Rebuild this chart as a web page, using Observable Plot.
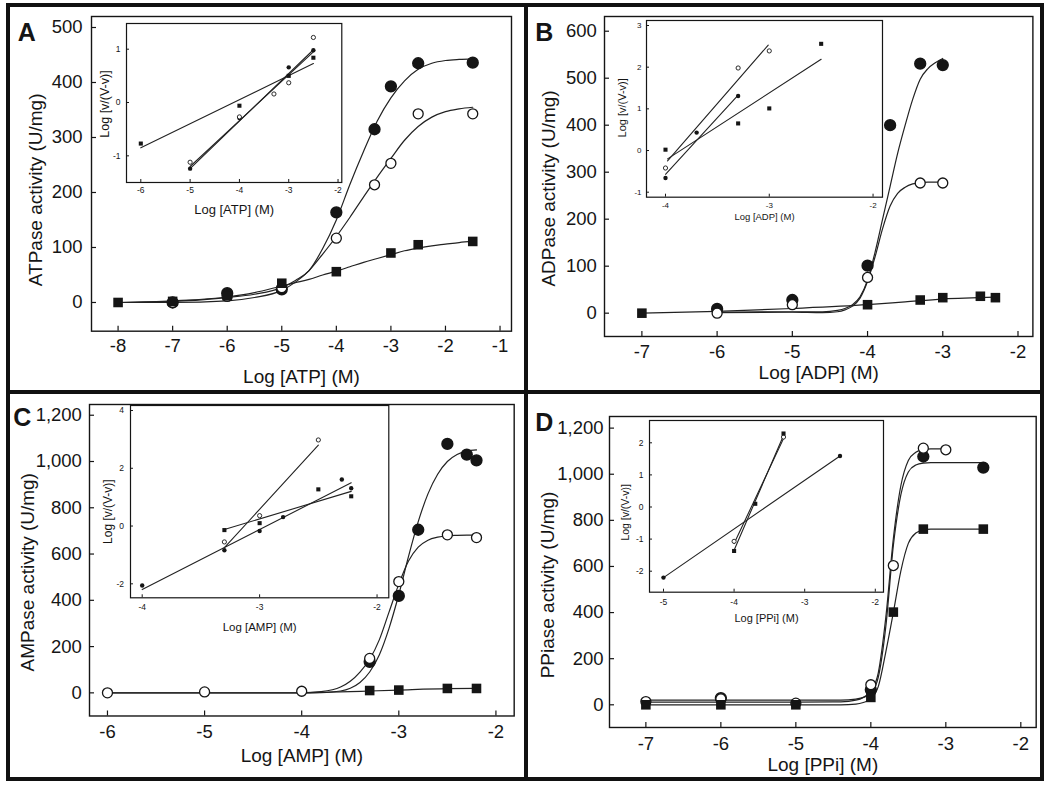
<!DOCTYPE html>
<html><head><meta charset="utf-8">
<script src="https://cdn.jsdelivr.net/npm/d3@7"></script>
<script src="https://cdn.jsdelivr.net/npm/@observablehq/plot@0.6"></script>
<style>
body{margin:0;background:#fff;}
#fig{position:relative;width:1050px;height:788px;background:#fff;overflow:hidden;}
.bar{position:absolute;background:#111;}
</style></head><body><div id="fig"></div>
<script>
// ---------------- Panel A (ATP) ----------------
const A_conc   = [-8, -7, -6, -5, -4, -3.3, -3, -2.5, -1.5];
const A_filled = [null, 0, 17, 24, 164, 315, 393, 435, 436];
const A_open   = [null, 0, 11, 27, 117, 214, 253, 343, 343];
const A_square = [0, 2, 12, 35, 56, null, 90, 105, 111];
const A_fitX      = [-8,-7,-6,-5.5,-5,-4.75,-4.5,-4.25,-4,-3.75,-3.5,-3.25,-3,-2.75,-2.5,-2.25,-2,-1.75,-1.5];
const A_fitFilled = [0,2,9,15,27,40,58,98,150,215,275,330,372,403,424,435,440,442,443];
const A_fitOpen   = [0,0,3,9,22,37,58,88,120,155,192,228,262,295,320,337,347,352,355];
const A_fitSquare = [0,3,10,18,30,36,42,50,57,65,73,80,87,94,99,103,106,109,111];
const A_xTicks = [-8,-7,-6,-5,-4,-3,-2,-1];
const A_yTicks = [0,100,200,300,400,500];
// inset A
const iA_sqX = [-6,-4,-3,-2.5],        iA_sqY = [-0.77,-0.06,0.5,0.84];
const iA_filledX = [-5,-4,-3,-2.5],    iA_filledY = [-1.24,-0.29,0.66,0.98];
const iA_openX = [-5,-4,-3.3,-3,-2.5], iA_openY = [-1.12,-0.27,0.16,0.37,1.22];
const iA_lineSqX = [-6,-2.5],     iA_lineSqY = [-0.85,0.73];
const iA_lineFilledX = [-5,-2.5], iA_lineFilledY = [-1.24,0.99];
const iA_lineOpenX = [-5,-2.5],   iA_lineOpenY = [-1.2,0.95];

// ---------------- Panel B (ADP) ----------------
const B_conc   = [-7, -6, -5, -4, -3.7, -3.3, -3, -2.5, -2.3];
const B_filled = [null, 9, 28, 101, 400, 531, 528, null, null];
const B_open   = [null, 0, 18, 76, null, 277, 277, null, null];
const B_square = [0, null, null, 18, null, 28, 33, 36, 33];
const B_fitX      = [-6,-5,-4.6,-4.4,-4.3,-4.2,-4.1,-4,-3.9,-3.8,-3.7,-3.6,-3.5,-3.4,-3.3,-3.2,-3.1,-3];
const B_fitFilled = [2,3,3,6,10,18,35,70,130,200,270,340,400,455,498,520,533,542];
const B_fitOpen   = [1,2,1,3,7,15,32,68,120,180,228,255,268,275,278,279,279,279];
const B_sqFitX    = [-7,-6,-5,-4,-3.5,-3,-2.3];
const B_fitSquare = [0,4,10,18,24,30,34];
const B_xTicks = [-7,-6,-5,-4,-3,-2];
const B_yTicks = [0,100,200,300,400,500,600];
// inset B
const iB_openX = [-4,-3.3,-3],          iB_openY = [-0.42,1.98,2.39];
const iB_filledX = [-4,-3.7,-3.3],      iB_filledY = [-0.66,0.43,1.31];
const iB_sqX = [-4,-3.3,-3,-2.5],       iB_sqY = [0.02,0.65,1.01,2.56];
const iB_lineOpenX = [-3.98,-3.01],   iB_lineOpenY = [-0.25,2.53];
const iB_lineFilledX = [-4,-3.3],     iB_lineFilledY = [-0.57,1.33];
const iB_lineSqX = [-3.98,-2.5],      iB_lineSqY = [-0.2,2.19];

// ---------------- Panel C (AMP) ----------------
const C_conc   = [-6, -5, -4, -3.3, -3, -2.8, -2.5, -2.3, -2.2];
const C_filled = [null, null, null, 134, 419, 705, 1076, 1030, 1005];
const C_open   = [0, 4, 7, 149, 481, null, 683, null, 671];
const C_square = [null, null, null, 10, 12, null, 19, null, 19];
const C_fitX      = [-6,-5,-4,-3.8,-3.6,-3.5,-3.4,-3.3,-3.2,-3.1,-3,-2.9,-2.8,-2.7,-2.6,-2.5,-2.4,-2.3,-2.2];
const C_fitFilled = [0,0,0,1,8,20,45,90,165,280,425,590,740,860,945,1000,1030,1045,1050];
const C_fitOpen   = [0,0,0,5,25,50,90,145,230,350,470,570,630,660,673,679,681,682,682];
const C_sqFitX    = [-4,-3.5,-3.3,-3,-2.5,-2.2];
const C_fitSquare = [0,5,8,12,18,19];
const C_xTicks = [-6,-5,-4,-3,-2];
const C_yTicks = [0,200,400,600,800,1000,1200];
// inset C
const iC_filledX = [-4,-3.3,-3,-2.8,-2.3,-2.22], iC_filledY = [-2.06,-0.84,-0.17,0.31,1.61,1.31];
const iC_openX = [-3.3,-3,-2.5],                 iC_openY = [-0.55,0.36,2.98];
const iC_sqX = [-3.3,-3,-2.5,-2.22],             iC_sqY = [-0.14,0.1,1.27,1.03];
const iC_lineFilledX = [-4,-2.22], iC_lineFilledY = [-2.2,1.5];
const iC_lineOpenX = [-3.3,-2.5],  iC_lineOpenY = [-0.75,2.8];
const iC_lineSqX = [-3.3,-2.22],   iC_lineSqY = [-0.12,1.2];

// ---------------- Panel D (PPi) ----------------
const D_conc   = [-7, -6, -5, -4, -3.7, -3.3, -3, -2.5];
const D_filled = [null, 29, null, 65, null, 1077, null, 1029];
const D_open   = [14, 26, 7, 87, 604, 1113, 1106, null];
const D_square = [0, 0, 0, 32, 402, 762, null, 762];
const D_fitX      = [-7,-6,-5,-4.4,-4.2,-4.1,-4,-3.9,-3.8,-3.7,-3.6,-3.5,-3.4,-3.3,-3.2,-3,-2.5];
const D_fitFilled = [20,20,20,20,25,32,50,120,340,690,910,1010,1040,1048,1050,1050,1050];
const D_fitOpen   = [12,12,12,13,20,32,60,140,380,720,950,1060,1095,1108,1110,1110,null];
const D_fitSquare = [0,0,0,0,3,10,25,80,230,400,580,700,745,758,762,762,762];
const D_xTicks = [-7,-6,-5,-4,-3,-2];
const D_yTicks = [0,200,400,600,800,1000,1200];
// inset D
const iD_filledX = [-5,-2.5],         iD_filledY = [-2.2,1.59];
const iD_sqX = [-4,-3.7,-3.3],        iD_sqY = [-1.37,0.1,2.29];
const iD_openX = [-4,-3.3],           iD_openY = [-1.07,2.18];
const iD_lineFilledX = [-5,-2.5],     iD_lineFilledY = [-2.2,1.59];
const iD_lineSqX = [-4,-3.3],         iD_lineSqY = [-1.35,2.23];
const iD_lineOpenX = [-4,-3.3],       iD_lineOpenY = [-1.14,2.13];

// ---------------- helpers ----------------
const FONT = '"Liberation Sans", Arial, Helvetica, sans-serif';
const INK = "#151515";
const fig = document.getElementById("fig");
const fmtPlain = d => String(d);
const fmtComma = d3.format(",");

function place(svg, left, top) {
  svg.style.position = "absolute";
  svg.style.left = left + "px";
  svg.style.top = top + "px";
  fig.appendChild(svg);
}
const toPts = (xs, ys) => xs.map((x, i) => ({x, y: ys[i]})).filter(d => d.y != null);
const toLine = (xs, ys) => xs.map((x, i) => ({x, y: ys[i]}));

function mainPanel(o) {
  const [L, R, T, B] = o.frame;
  const ml = 95, mr = 14, mt = 14, mb = 64;
  const W = R - L, H = B - T;
  const marks = [
    Plot.frame({stroke: INK, strokeWidth: 1.4}),
    Plot.ruleX(o.xTicks, {x: d => d, insetTop: H - 5, stroke: INK, strokeWidth: 1.2}),
    Plot.ruleY(o.yTicks, {y: d => d, insetRight: W - 5, stroke: INK, strokeWidth: 1.2}),
    Plot.axisX({ticks: o.xTicks, tickSize: 0, tickPadding: o.xPad, tickFormat: fmtPlain, label: null, fontSize: 18.5}),
    Plot.axisY({ticks: o.yTicks, tickSize: 0, tickPadding: o.yPad, tickFormat: o.yFormat, label: null, fontSize: 18.5}),
    ...o.fits.map(f => Plot.line(toLine(f[0], f[1]), {x: "x", y: "y", curve: "monotone-x", stroke: "#222", strokeWidth: 1.2})),
    Plot.dot(toPts(o.conc, o.filled), {x: "x", y: "y", r: 5.4, fill: INK, stroke: INK}),
    Plot.dot(toPts(o.conc, o.open), {x: "x", y: "y", r: 5, fill: "white", stroke: INK, strokeWidth: 1.3}),
    Plot.dot(toPts(o.conc, o.square), {x: "x", y: "y", r: 5.4, symbol: "square", fill: INK}),
    Plot.text([o.xLabel], {frameAnchor: "bottom", text: d => d, dy: o.xLabDy, fontSize: 19, textAnchor: "middle", lineAnchor: "middle", fill: INK}),
    Plot.text([o.yLabel], {frameAnchor: "left", text: d => d, dx: o.yLabDx, dy: o.yLabDy, rotate: -90, fontSize: 19, textAnchor: "middle", lineAnchor: "middle", fill: INK}),
    Plot.text([o.letter], {frameAnchor: "top-left", text: d => d, dx: o.letDx, dy: o.letDy, fontSize: 25, fontWeight: "bold", textAnchor: "start", lineAnchor: "top", fill: INK})
  ];
  const svg = Plot.plot({
    width: W + ml + mr, height: H + mt + mb,
    marginLeft: ml, marginRight: mr, marginTop: mt, marginBottom: mb,
    x: {domain: o.xDomain}, y: {domain: o.yDomain},
    style: {fontFamily: FONT, fontSize: "18.5px", background: "transparent", overflow: "visible", color: INK},
    marks
  });
  place(svg, L - ml, T - mt);
}

function insetPanel(o) {
  const [L, R, T, B] = o.frame;
  const ml = 40, mr = 8, mt = 6, mb = 44;
  const W = R - L, H = B - T;
  const marks = [
    Plot.frame({fill: "white", stroke: INK, strokeWidth: 1.2}),
    Plot.ruleX(o.xTicks, {x: d => d, insetTop: H - 3, stroke: INK, strokeWidth: 1}),
    Plot.ruleY(o.yTicks, {y: d => d, insetRight: W - 3, stroke: INK, strokeWidth: 1}),
    Plot.axisX({ticks: o.xTicks, tickSize: 0, tickPadding: o.xPad, tickFormat: fmtPlain, label: null, fontSize: o.tickFont}),
    Plot.axisY({ticks: o.yTicks, tickSize: 0, tickPadding: o.yPad, tickFormat: fmtPlain, label: null, fontSize: o.tickFont}),
    ...o.lines.map(l => Plot.line(toLine(l[0], l[1]), {x: "x", y: "y", stroke: "#222", strokeWidth: 1.1})),
    Plot.dot(toPts(o.filled[0], o.filled[1]), {x: "x", y: "y", r: 2.2, fill: INK}),
    Plot.dot(toPts(o.open[0], o.open[1]), {x: "x", y: "y", r: 2.1, fill: "white", stroke: INK, strokeWidth: 0.9}),
    Plot.dot(toPts(o.square[0], o.square[1]), {x: "x", y: "y", r: 2.3, symbol: "square", fill: INK}),
    Plot.text([o.xLabel], {frameAnchor: "bottom", text: d => d, dy: o.xLabDy, fontSize: o.xLabFont, textAnchor: "middle", lineAnchor: "middle", fill: INK}),
    Plot.text(["Log [v/(V-v)]"], {frameAnchor: "left", text: d => d, dx: o.yLabDx, dy: o.yLabDy, rotate: -90, fontSize: o.yLabFont, textAnchor: "middle", lineAnchor: "middle", fill: INK})
  ];
  const svg = Plot.plot({
    width: W + ml + mr, height: H + mt + mb,
    marginLeft: ml, marginRight: mr, marginTop: mt, marginBottom: mb,
    x: {domain: o.xDomain}, y: {domain: o.yDomain},
    style: {fontFamily: FONT, fontSize: o.tickFont + "px", background: "transparent", overflow: "visible", color: INK},
    marks
  });
  place(svg, L - ml, T - mt);
}

// ---------------- main panels ----------------
mainPanel({frame: [90.7, 510.7, 16, 330.7], xDomain: [-8.487, -0.79], yDomain: [-52.2, 520],
  xTicks: A_xTicks, yTicks: A_yTicks, yFormat: fmtPlain, xPad: 7.4, yPad: 9,
  conc: A_conc, filled: A_filled, open: A_open, square: A_square,
  fits: [[A_fitX, A_fitFilled], [A_fitX, A_fitOpen], [A_fitX, A_fitSquare]],
  xLabel: "Log [ATP] (M)", yLabel: "ATPase activity (U/mg)", letter: "A",
  xLabDy: 45.3, yLabDx: -55.7, yLabDy: 16, letDx: -73.7, letDy: 7});

mainPanel({frame: [604.3, 1032.7, 16, 336], xDomain: [-7.497, -1.802], yDomain: [-49.6, 631.3],
  xTicks: B_xTicks, yTicks: B_yTicks, yFormat: fmtPlain, xPad: 8.5, yPad: 7.6,
  conc: B_conc, filled: B_filled, open: B_open, square: B_square,
  fits: [[B_fitX, B_fitFilled], [B_fitX, B_fitOpen], [B_sqFitX, B_fitSquare]],
  xLabel: "Log [ADP] (M)", yLabel: "ADPase activity (U/mg)", letter: "B",
  xLabDy: 36.5, yLabDx: -56, yLabDy: 12, letDx: -69.3, letDy: 7});

mainPanel({frame: [89.3, 514, 403.5, 715], xDomain: [-6.185, -1.812], yDomain: [-100, 1246.4],
  xTicks: C_xTicks, yTicks: C_yTicks, yFormat: fmtComma, xPad: 9.2, yPad: 7.6,
  conc: C_conc, filled: C_filled, open: C_open, square: C_square,
  fits: [[C_fitX, C_fitFilled], [C_fitX, C_fitOpen], [C_sqFitX, C_fitSquare]],
  xLabel: "Log [AMP] (M)", yLabel: "AMPase activity (U/mg)", letter: "C",
  xLabDy: 40.3, yLabDx: -62, yLabDy: 12, letDx: -76.3, letDy: 3.5});

mainPanel({frame: [609.3, 1036, 415.7, 726.7], xDomain: [-7.485, -1.795], yDomain: [-98.4, 1250.4],
  xTicks: D_xTicks, yTicks: D_yTicks, yFormat: fmtComma, xPad: 9.2, yPad: 6,
  conc: D_conc, filled: D_filled, open: D_open, square: D_square,
  fits: [[D_fitX, D_fitFilled], [D_fitX, D_fitOpen], [D_fitX, D_fitSquare]],
  xLabel: "Log [PPi] (M)", yLabel: "PPiase activity (U/mg)", letter: "D",
  xLabDy: 37.2, yLabDx: -61.7, yLabDy: 13, letDx: -74.3, letDy: -3.7});

// ---------------- insets ----------------
insetPanel({frame: [125.7, 341, 23.3, 182.3], xDomain: [-6.29, -1.924], yDomain: [-1.5, 1.482],
  xTicks: [-6,-5,-4,-3,-2], yTicks: [-1,0,1], tickFont: 8.5, xPad: 4.8, yPad: 6,
  filled: [iA_filledX, iA_filledY], open: [iA_openX, iA_openY], square: [iA_sqX, iA_sqY],
  lines: [[iA_lineSqX, iA_lineSqY], [iA_lineFilledX, iA_lineFilledY], [iA_lineOpenX, iA_lineOpenY]],
  xLabel: "Log [ATP] (M)", xLabFont: 13, xLabDy: 27.7, yLabFont: 12.5, yLabDx: -21.7, yLabDy: 1});

insetPanel({frame: [645.7, 881.7, 20, 196.7], xDomain: [-4.183, -1.909], yDomain: [-1.12, 3.12],
  xTicks: [-4,-3,-2], yTicks: [-1,0,1,2,3], tickFont: 8, xPad: 5, yPad: 5,
  filled: [iB_filledX, iB_filledY], open: [iB_openX, iB_openY], square: [iB_sqX, iB_sqY],
  lines: [[iB_lineOpenX, iB_lineOpenY], [iB_lineFilledX, iB_lineFilledY], [iB_lineSqX, iB_lineSqY]],
  xLabel: "Log [ADP] (M)", xLabFont: 9.5, xLabDy: 20, yLabFont: 11, yLabDx: -24, yLabDy: -1});

insetPanel({frame: [130, 388.3, 405, 597.3], xDomain: [-4.0996, -1.9], yDomain: [-2.484, 4.173],
  xTicks: [-4,-3,-2], yTicks: [-2,0,2,4], tickFont: 8.5, xPad: 6.5, yPad: 6.5,
  filled: [iC_filledX, iC_filledY], open: [iC_openX, iC_openY], square: [iC_sqX, iC_sqY],
  lines: [[iC_lineFilledX, iC_lineFilledY], [iC_lineOpenX, iC_lineOpenY], [iC_lineSqX, iC_lineSqY]],
  xLabel: "Log [AMP] (M)", xLabFont: 11.5, xLabDy: 30, yLabFont: 12, yLabDx: -22, yLabDy: 10});

insetPanel({frame: [649.3, 883.3, 420, 591.7], xDomain: [-5.198, -1.884], yDomain: [-2.654, 2.695],
  xTicks: [-5,-4,-3,-2], yTicks: [-2,-1,0,1,2], tickFont: 8.5, xPad: 7, yPad: 6,
  filled: [iD_filledX, iD_filledY], open: [iD_openX, iD_openY], square: [iD_sqX, iD_sqY],
  lines: [[iD_lineFilledX, iD_lineFilledY], [iD_lineSqX, iD_lineSqY], [iD_lineOpenX, iD_lineOpenY]],
  xLabel: "Log [PPi] (M)", xLabFont: 11, xLabDy: 26.3, yLabFont: 10.5, yLabDx: -24.3, yLabDy: 6});

// ---------------- outer border & dividers ----------------
[[6, 3, 1038, 4], [6, 777, 1038, 4], [6, 3, 4, 778], [1040, 3, 4, 778], [524, 3, 4, 778], [6, 390, 1038, 4]]
  .forEach(([l, t, w, h]) => {
    const d = document.createElement("div");
    d.className = "bar";
    d.style.left = l + "px"; d.style.top = t + "px";
    d.style.width = w + "px"; d.style.height = h + "px";
    fig.appendChild(d);
  });
</script></body></html>
